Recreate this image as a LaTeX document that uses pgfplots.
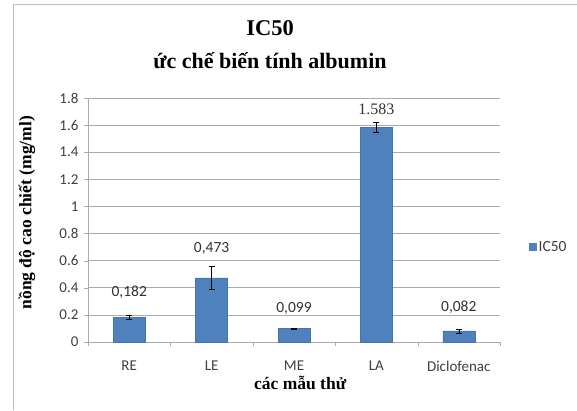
\documentclass[border=0pt]{standalone}
\usepackage{pgfplots}
\pgfplotsset{compat=1.18}
\usepackage{fontspec}
\setmainfont{Carlito}
\newfontfamily\serif{Liberation Serif}
\definecolor{barblue}{HTML}{4F81BD}
\definecolor{gridgray}{HTML}{ABABAB}
\begin{document}
\begin{tikzpicture}[x=1pt,y=1pt]
\useasboundingbox[fill=white] (0,0) rectangle (577,410);
\draw[gray!50, line width=1pt] (13,0) -- (13,405) -- (577,405);
\node[font=\serif\bfseries\fontsize{22.5}{26}\selectfont, anchor=center] at (270,382) {IC50};
\node[font=\serif\bfseries\fontsize{22}{26}\selectfont, anchor=center] at (270,349) {ức chế biến tính albumin};
\begin{axis}[
  at={(88pt,68pt)}, anchor=south west,
  scale only axis, width=412pt, height=244pt,
  xmin=-0.5, xmax=4.5, ymin=0, ymax=1.8,
  ytick={0,0.2,...,1.8},
  yticklabels={0,0.2,0.4,0.6,0.8,1,1.2,1.4,1.6,1.8},
  xtick={0,1,2,3,4},
  xticklabels={RE,LE,ME,LA,Diclofenac},
  minor xtick={-0.5,0.5,1.5,2.5,3.5,4.5},
  xtick style={draw=none},
  minor tick length=4pt,
  minor x tick style={draw=gridgray},
  ytick style={draw=gridgray},
  tick align=outside, major tick length=4pt,
  ymajorgrids, grid style={gridgray, line width=0.6pt},
  axis x line*=bottom, axis y line*=left,
  axis line style={gridgray, line width=0.6pt, -},
  tick label style={font=\fontsize{15}{17}\selectfont, text=black!75},
  yticklabel style={xshift=-2pt},
  xticklabel style={anchor=center, yshift=-20pt},
  xlabel={các mẫu thử},
  every axis x label/.style={at={(axis description cs:0.515,-0.168)}, anchor=center},
  xlabel style={font=\serif\bfseries\fontsize{17.5}{20}\selectfont},
  ylabel={nồng độ cao chiết (mg/ml)},
  every axis y label/.style={at={(axis description cs:-0.148,0.53)}, rotate=90, anchor=center},
  ylabel style={font=\serif\bfseries\fontsize{17.5}{20}\selectfont},
  legend style={at={(440pt,95pt)}, anchor=west, draw=none, fill=none,
     font=\fontsize{15.5}{17}\selectfont, text=black!75, inner sep=1pt},
  legend cell align=left,
  legend image code/.code={\fill[barblue] (0,-3.5pt) rectangle (7pt,3.5pt);},
  clip=false,
]
\addplot[ybar, bar width=32pt, fill=barblue, draw=barblue!90!black,
  error bars/.cd, y dir=both, y explicit,
  error bar style={black, line width=0.6pt},
  error mark options={rotate=90, mark size=3pt, black}]
  coordinates {
   (0,0.182) +- (0,0.013)
   (1,0.473) +- (0,0.083)
   (2,0.099) +- (0,0.005)
   (3,1.583) +- (0,0.035)
   (4,0.082) +- (0,0.015)
  };
\addlegendentry{IC50}
\node[font=\fontsize{15.5}{17}\selectfont, text=black!80] at (axis cs:0,0.369) {0,182};
\node[font=\fontsize{15.5}{17}\selectfont, text=black!80] at (axis cs:1,0.69) {0,473};
\node[font=\fontsize{15.5}{17}\selectfont, text=black!80] at (axis cs:2,0.25) {0,099};
\node[font=\serif\fontsize{16}{18}\selectfont, text=black!80] at (axis cs:3,1.72) {1.583};
\node[font=\fontsize{15.5}{17}\selectfont, text=black!80] at (axis cs:4,0.26) {0,082};
\end{axis}
\end{tikzpicture}
\end{document}
